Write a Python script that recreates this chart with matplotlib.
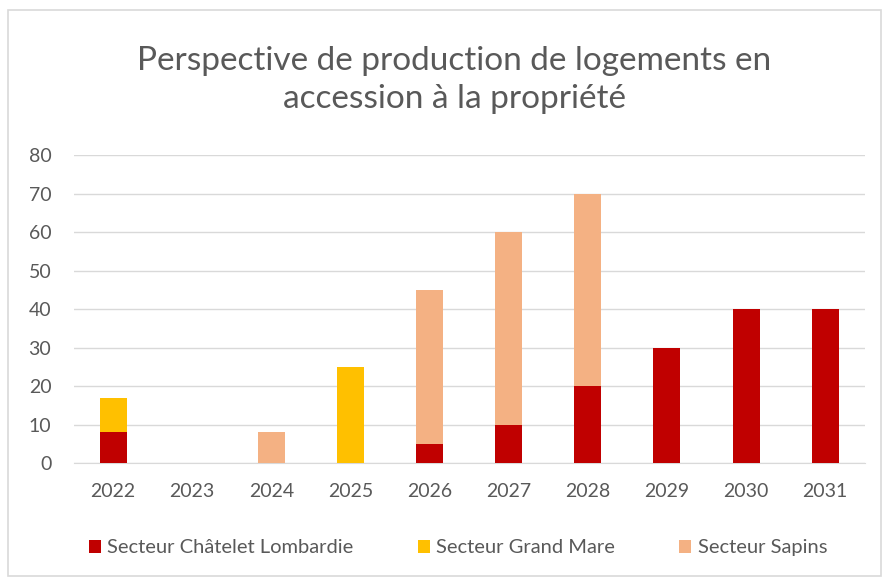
import matplotlib.pyplot as plt
import numpy as np
from matplotlib.patches import Rectangle

years = ['2022', '2023', '2024', '2025', '2026', '2027', '2028', '2029', '2030', '2031']
chatelet = [8, 0, 0, 0, 5, 10, 20, 30, 40, 40]
grand_mare = [9, 0, 0, 25, 0, 0, 0, 0, 0, 0]
sapins = [0, 0, 8, 0, 40, 50, 50, 0, 0, 0]

plt.rcParams['font.family'] = ['Lato', 'DejaVu Sans']
grey = '#595959'

fig = plt.figure(figsize=(8.86, 5.81), dpi=100)
fig.patches.append(Rectangle((0.009, 0.008), 0.985, 0.975, transform=fig.transFigure,
                             fill=False, edgecolor='#D9D9D9', linewidth=1.2))
ax = fig.add_axes([0.083, 0.203, 0.893, 0.530])

x = np.arange(len(years))
w = 0.34
b1 = np.array(chatelet)
b2 = b1 + np.array(grand_mare)
ax.bar(x, chatelet, w, color='#C00000', label='Secteur Châtelet Lombardie', zorder=3)
ax.bar(x, grand_mare, w, bottom=b1, color='#FFC000', label='Secteur Grand Mare', zorder=3)
ax.bar(x, sapins, w, bottom=b2, color='#F4B183', label='Secteur Sapins', zorder=3)

ax.set_ylim(0, 80)
ax.set_xlim(-0.5, len(years) - 0.5)
ax.set_yticks(range(0, 81, 10))
ax.set_xticks(x)
ax.set_xticklabels(years)
ax.grid(axis='y', color='#D9D9D9', linewidth=1, zorder=0)
for s in ['top', 'right', 'left']:
    ax.spines[s].set_visible(False)
ax.spines['bottom'].set_color('#D9D9D9')
ax.tick_params(length=0, labelsize=14, colors=grey)
ax.tick_params(axis='x', pad=14)
ax.tick_params(axis='y', pad=16)

fig.text(0.513, 0.862, 'Perspective de production de logements en\naccession à la propriété',
         ha='center', va='center', fontsize=24, color=grey, linespacing=1.35)

fig.legend(loc='center', bbox_to_anchor=(0.517, 0.057), ncol=3, frameon=False,
           fontsize=14.5, labelcolor=grey, handlelength=0.6, handleheight=0.6,
           handletextpad=0.3, columnspacing=3.2)

fig.savefig('out.png', dpi=100)
